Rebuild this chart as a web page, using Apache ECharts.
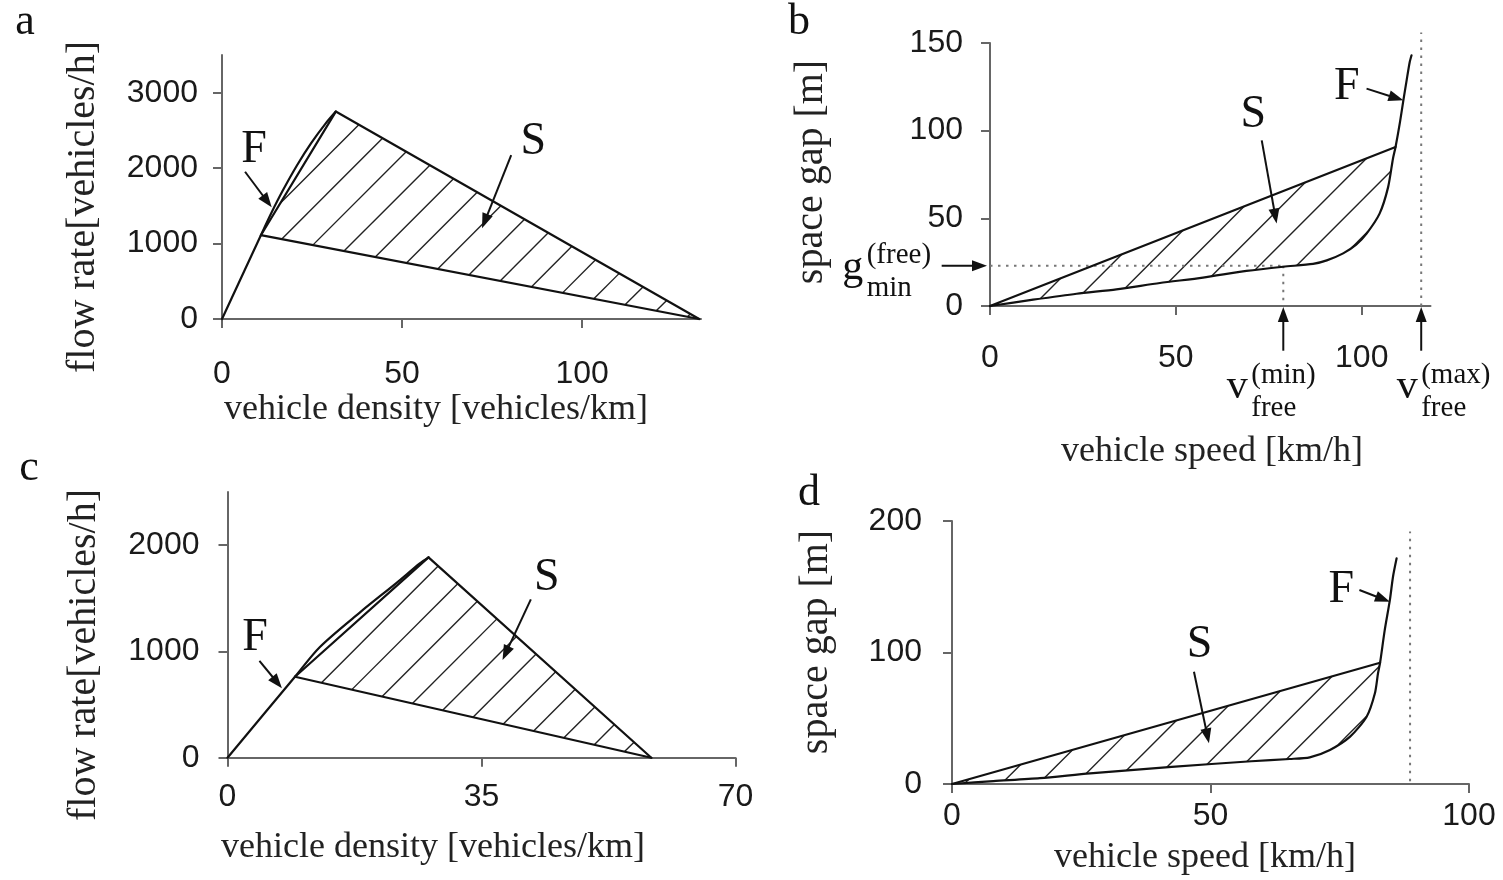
<!DOCTYPE html>
<html>
<head>
<meta charset="utf-8">
<script src="https://cdn.jsdelivr.net/npm/echarts@6/dist/echarts.min.js"></script>
<style>
  html, body { margin: 0; padding: 0; background: #fff; }
  #chart { width: 1503px; height: 880px; }
</style>
</head>
<body>
<div id="chart"></div>
<script>
// ---------- panel a: flow rate vs. density ----------
const aXTicks = [0, 50, 100];
const aYTicks = [0, 1000, 2000, 3000];
const aXMax = 133, aYMax = 3500;
const aFreeFlow = [[0, 0], [10.8, 1111], [13.8, 1415], [16.8, 1696], [20.8, 2035], [24.8, 2334], [28.8, 2593], [31.6, 2750]];
const aSynLeft = [[10.8, 1111], [31.6, 2750]];
const aSynUpper = [[31.6, 2750], [132.5, 0]];
const aSynLower = [[10.8, 1111], [132.5, 0]];
const aArrows = [[6.4, 1952, 13.8, 1480], [80.3, 2174, 72.2, 1204]];
const aLabels = ['F', 'S'];
const aLabelPos = [[8.9, 2240], [86.4, 2347]];

// ---------- panel b: space gap vs. speed ----------
const bXTicks = [0, 50, 100];
const bYTicks = [0, 50, 100, 150];
const bXMax = 118.5, bYMax = 150;
const bVfreeMin = 78.9, bVfreeMax = 116, bGapMin = 23;
const bUpper = [[0, 0], [109.1, 90.7]];
const bLower = [[0, 0], [11.6, 3.6], [23.3, 7], [34, 9.5], [45.7, 13.1], [57.3, 16.2], [69, 20],
  [78.9, 22.4], [86.9, 24], [90.6, 26], [95, 30], [98.5, 35], [101.3, 41.3], [104.8, 52.7],
  [107.1, 67.8], [108.4, 84], [109.1, 90.7]];
const bFree = [[109.1, 90.7], [110.3, 105], [111.2, 117.3], [112.1, 129], [112.9, 139], [113.4, 143]];
const bVmaxTop = 156;
const bArrows = [[73.1, 94.5, 77.1, 47], [101.3, 124, 111.2, 117.3]];
const bLabels = ['S', 'F'];
const bLabelPos = [[70.8, 108.7], [96, 124.9]];
const bSymbols = [['g', '(free)', 'min'], ['v', '(min)', 'free'], ['v', '(max)', 'free']];
const bSymbolArrows = [[-13, bGapMin, -0.8, bGapMin], [bVfreeMin, -25.5, bVfreeMin, -0.6], [bVfreeMax, -25.5, bVfreeMax, -0.6]];

// ---------- panel c: flow rate vs. density ----------
const cXTicks = [0, 35, 70];
const cYTicks = [0, 1000, 2000];
const cXMax = 70, cYMax = 2500;
const cFreeFlow = [[0, 0], [9.3, 762], [12.7, 1040], [18.3, 1370], [23.3, 1645], [26.5, 1828], [27.7, 1885]];
const cSynLeft = [[9.3, 762], [27.7, 1885]];
const cSynUpper = [[27.7, 1885], [58.4, 0]];
const cSynLower = [[9.3, 762], [58.4, 0]];
const cArrows = [[4.4, 912, 7.5, 653], [41.8, 1490, 37.9, 919]];
const cLabels = ['F', 'S'];
const cLabelPos = [[3.8, 1123], [44, 1688]];

// ---------- panel d: space gap vs. speed ----------
const dXTicks = [0, 50, 100];
const dYTicks = [0, 100, 200];
const dXMax = 100, dYMax = 200;
const dVfreeMax = 88.6;
const dUpper = [[0, 0], [82.8, 92.2]];
const dLower = [[0, 0], [8, 2.2], [17, 4.5], [26.7, 8.1], [42.5, 13], [57.9, 17.3], [65.3, 19],
  [69.2, 20.3], [73.1, 25.9], [77, 36], [80.2, 51.2], [81.8, 69], [82.4, 84.2], [82.8, 92.2]];
const dFree = [[82.8, 92.2], [83.7, 117], [84.7, 140], [85.3, 157.6], [86, 171.6]];
const dVmaxRange = [2, 192];
const dArrows = [[46.8, 85.4, 49.7, 31], [78.8, 147.5, 84.7, 138.6]];
const dLabels = ['S', 'F'];
const dLabelPos = [[47.9, 105.7], [75.3, 147.5]];

// ---------- text ----------
const panelLetters = ['a', 'b', 'c', 'd'];
const xTitles = ['vehicle density [vehicles/km]', 'vehicle speed [km/h]', 'vehicle density [vehicles/km]', 'vehicle speed [km/h]'];
const yTitles = ['flow rate[vehicles/h]', 'space gap [m]', 'flow rate[vehicles/h]', 'space gap [m]'];

// ---------- styling / layout ----------
const SERIF = "'Liberation Serif', 'Times New Roman', serif";
const SANS = "'Liberation Sans', Arial, sans-serif";
const INK = '#111';
const AXIS_COLOR = '#666';
const HATCH_ANGLE = 45;   // degrees, rising to the right
const HATCH_GAP = 26.3;   // px between hatch lines

const grids = [
  { left: 222, top: 55, width: 479, height: 264 },
  { left: 990, top: 43, width: 440.5, height: 263 },
  { left: 227.5, top: 492, width: 508, height: 265.7 },
  { left: 952, top: 521, width: 517, height: 263 }
];
const xLabelMargin = [39, 36, 23, 16];
const yLabelMargin = [24, 27, 28, 30];
const letterPos = [[25, 22], [799, 22], [29, 468], [809, 493]];
const xTitlePos = [[436, 410], [1212, 452], [433, 848], [1205, 858]];
const yTitlePos = [[83, 207], [811, 172], [84, 655], [816, 642]];
const symbolOffsets = [[-89, 2], [-46, 36.5], [-14, 36.5]];

function makeAxis(gi, max, ticks, margin) {
  return {
    type: 'value', gridIndex: gi, min: 0, max: max,
    axisLine: { show: true, onZero: false, lineStyle: { color: AXIS_COLOR, width: 2 } },
    axisTick: { show: true, inside: false, length: 9, customValues: ticks, lineStyle: { color: AXIS_COLOR, width: 2 } },
    axisLabel: {
      show: true, customValues: ticks, margin: margin,
      formatter: function (v) { return String(v); },
      fontFamily: SANS, fontSize: 32, color: '#1a1a1a'
    },
    splitLine: { show: false }
  };
}

function lineSeries(gi, data, extra) {
  return Object.assign({
    type: 'line', xAxisIndex: gi, yAxisIndex: gi, data: data,
    symbol: 'none', showSymbol: false, silent: true, clip: false, z: 3,
    lineStyle: { color: INK, width: 2.2, cap: 'round', join: 'round' }
  }, extra || {});
}

function dottedSeries(gi, data) {
  return lineSeries(gi, data, { z: 2, lineStyle: { color: '#777', width: 2, type: [2.5, 5.5] } });
}

// parallel diagonal strokes clipped to a polygon given in data units
function hatchSeries(gi, polygon) {
  return {
    type: 'custom', xAxisIndex: gi, yAxisIndex: gi, data: [[0, 0]], silent: true, clip: false, z: 2,
    renderItem: function (params, api) {
      const pts = polygon.map(function (p) { return api.coord(p); });
      const t = HATCH_ANGLE * Math.PI / 180;
      const dir = [Math.cos(t), -Math.sin(t)];
      const nrm = [Math.sin(t), Math.cos(t)];
      const proj = pts.map(function (p) { return p[0] * nrm[0] + p[1] * nrm[1]; });
      const lo = Math.min.apply(null, proj), hi = Math.max.apply(null, proj);
      const children = [];
      for (let c = Math.ceil(lo / HATCH_GAP) * HATCH_GAP; c < hi; c += HATCH_GAP) {
        const hits = [];
        for (let i = 0; i < pts.length; i++) {
          const j = (i + 1) % pts.length;
          const fp = proj[i] - c, fq = proj[j] - c;
          if ((fp < 0) !== (fq < 0)) {
            const s = fp / (fp - fq);
            hits.push([pts[i][0] + s * (pts[j][0] - pts[i][0]), pts[i][1] + s * (pts[j][1] - pts[i][1])]);
          }
        }
        hits.sort(function (u, v) { return (u[0] * dir[0] + u[1] * dir[1]) - (v[0] * dir[0] + v[1] * dir[1]); });
        for (let k = 0; k + 1 < hits.length; k += 2) {
          children.push({
            type: 'line',
            shape: { x1: hits[k][0], y1: hits[k][1], x2: hits[k + 1][0], y2: hits[k + 1][1] },
            style: { stroke: '#222', lineWidth: 1.4 }
          });
        }
      }
      return { type: 'group', children: children };
    }
  };
}

function arrowShape(a, b) {
  const L = 15, W = 5.5;
  const dx = b[0] - a[0], dy = b[1] - a[1];
  const len = Math.sqrt(dx * dx + dy * dy) || 1;
  const ux = dx / len, uy = dy / len;
  const bx = b[0] - ux * L, by = b[1] - uy * L;
  return [
    { type: 'line', shape: { x1: a[0], y1: a[1], x2: bx + ux * 3, y2: by + uy * 3 }, style: { stroke: INK, lineWidth: 2 } },
    { type: 'polygon', shape: { points: [[b[0], b[1]], [bx - uy * W, by + ux * W], [bx + uy * W, by - ux * W]] }, style: { fill: INK } }
  ];
}

function arrowSeries(gi, arrows) {
  return {
    type: 'custom', xAxisIndex: gi, yAxisIndex: gi, data: arrows, silent: true, clip: false, z: 4,
    renderItem: function (params, api) {
      const a = api.coord([api.value(0), api.value(1)]);
      const b = api.coord([api.value(2), api.value(3)]);
      return { type: 'group', children: arrowShape(a, b) };
    }
  };
}

function labelSeries(gi, texts, positions) {
  return {
    type: 'custom', xAxisIndex: gi, yAxisIndex: gi, data: positions, silent: true, clip: false, z: 4,
    renderItem: function (params, api) {
      const p = api.coord([api.value(0), api.value(1)]);
      return {
        type: 'text', x: p[0], y: p[1],
        style: { text: texts[params.dataIndex], fontFamily: SERIF, fontSize: 46, fill: INK, align: 'center', verticalAlign: 'middle' }
      };
    }
  };
}

// arrow plus symbol with stacked superscript / subscript, anchored at the arrow tail
function symbolSeries(gi, symbols, arrows) {
  return {
    type: 'custom', xAxisIndex: gi, yAxisIndex: gi, data: arrows, silent: true, clip: false, z: 4,
    renderItem: function (params, api) {
      const a = api.coord([api.value(0), api.value(1)]);
      const b = api.coord([api.value(2), api.value(3)]);
      const sym = symbols[params.dataIndex];
      const off = symbolOffsets[params.dataIndex];
      const mx = a[0] + off[0], my = a[1] + off[1];
      const right = mx + 11;
      const children = arrowShape(a, b).concat([
        { type: 'text', x: mx, y: my, style: { text: sym[0], fontFamily: SERIF, fontSize: 42, fill: INK, align: 'center', verticalAlign: 'middle' } },
        { type: 'text', x: right + 3, y: my - 12, style: { text: sym[1], fontFamily: SERIF, fontSize: 29, fill: INK, align: 'left', verticalAlign: 'middle' } },
        { type: 'text', x: right + 3, y: my + 21, style: { text: sym[2], fontFamily: SERIF, fontSize: 29, fill: INK, align: 'left', verticalAlign: 'middle' } }
      ]);
      return { type: 'group', children: children };
    }
  };
}

const aRegion = aSynLeft.concat([aSynUpper[1]]);
const cRegion = cSynLeft.concat([cSynUpper[1]]);
const bRegion = bUpper.concat(bLower.slice(1, -1).reverse());
const dRegion = dUpper.concat(dLower.slice(1, -1).reverse());

const series = [
  // a
  hatchSeries(0, aRegion),
  lineSeries(0, aFreeFlow, { smooth: 0.3 }),
  lineSeries(0, aSynLeft),
  lineSeries(0, aSynUpper),
  lineSeries(0, aSynLower),
  arrowSeries(0, aArrows),
  labelSeries(0, aLabels, aLabelPos),
  // b
  hatchSeries(1, bRegion),
  dottedSeries(1, [[0, bGapMin], [bVfreeMin, bGapMin]]),
  dottedSeries(1, [[bVfreeMin, bGapMin], [bVfreeMin, 0]]),
  dottedSeries(1, [[bVfreeMax, 0], [bVfreeMax, bVmaxTop]]),
  lineSeries(1, bUpper),
  lineSeries(1, bLower.concat(bFree.slice(1)), { smooth: 0.25 }),
  arrowSeries(1, bArrows),
  labelSeries(1, bLabels, bLabelPos),
  symbolSeries(1, bSymbols, bSymbolArrows),
  // c
  hatchSeries(2, cRegion),
  lineSeries(2, cFreeFlow, { smooth: 0.3 }),
  lineSeries(2, cSynLeft),
  lineSeries(2, cSynUpper),
  lineSeries(2, cSynLower),
  arrowSeries(2, cArrows),
  labelSeries(2, cLabels, cLabelPos),
  // d
  hatchSeries(3, dRegion),
  dottedSeries(3, [[dVfreeMax, dVmaxRange[0]], [dVfreeMax, dVmaxRange[1]]]),
  lineSeries(3, dUpper),
  lineSeries(3, dLower.concat(dFree.slice(1)), { smooth: 0.25 }),
  arrowSeries(3, dArrows),
  labelSeries(3, dLabels, dLabelPos)
];

const graphic = [];
panelLetters.forEach(function (t, i) {
  graphic.push({ type: 'text', x: letterPos[i][0], y: letterPos[i][1], silent: true,
    style: { text: t, fontFamily: SERIF, fontSize: 44, fill: INK, align: 'center', verticalAlign: 'middle' } });
});
xTitles.forEach(function (t, i) {
  graphic.push({ type: 'text', x: xTitlePos[i][0], y: xTitlePos[i][1], silent: true,
    style: { text: t, fontFamily: SERIF, fontSize: 36, fill: '#222', align: 'center', verticalAlign: 'middle' } });
});
yTitles.forEach(function (t, i) {
  graphic.push({ type: 'text', x: yTitlePos[i][0], y: yTitlePos[i][1], rotation: Math.PI / 2, silent: true,
    style: { text: t, fontFamily: SERIF, fontSize: 40, fill: '#222', align: 'center', verticalAlign: 'middle' } });
});

const chart = echarts.init(document.getElementById('chart'), null, { renderer: 'canvas' });
chart.setOption({
  animation: false,
  backgroundColor: '#fff',
  grid: grids.map(function (g) { return Object.assign({ containLabel: false, outerBoundsMode: 'none' }, g); }),
  xAxis: [
    makeAxis(0, aXMax, aXTicks, xLabelMargin[0]),
    makeAxis(1, bXMax, bXTicks, xLabelMargin[1]),
    makeAxis(2, cXMax, cXTicks, xLabelMargin[2]),
    makeAxis(3, dXMax, dXTicks, xLabelMargin[3])
  ],
  yAxis: [
    makeAxis(0, aYMax, aYTicks, yLabelMargin[0]),
    makeAxis(1, bYMax, bYTicks, yLabelMargin[1]),
    makeAxis(2, cYMax, cYTicks, yLabelMargin[2]),
    makeAxis(3, dYMax, dYTicks, yLabelMargin[3])
  ],
  series: series,
  graphic: graphic
});
</script>
</body>
</html>
